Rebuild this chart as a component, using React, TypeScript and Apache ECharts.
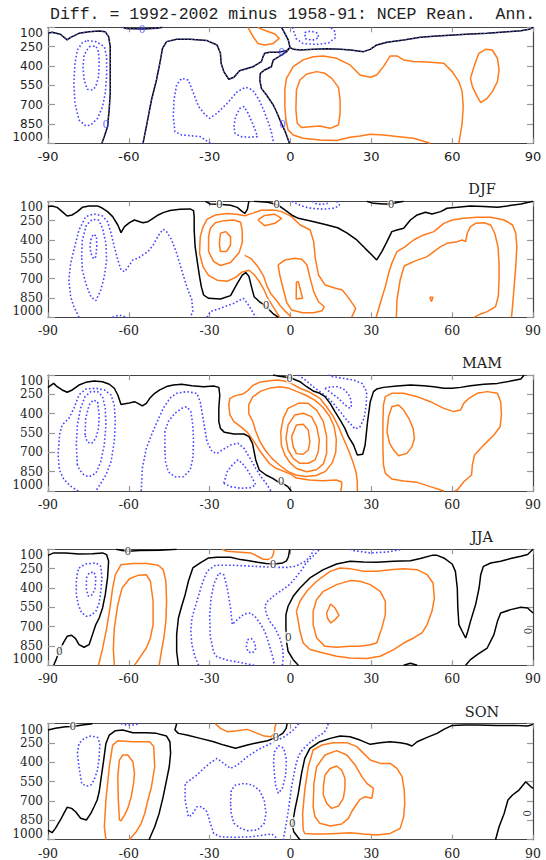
import { useEffect, useRef } from 'react';
import * as echarts from 'echarts';

type Pt = [number, number];

const TITLE = 'Diff. = 1992-2002 minus 1958-91: NCEP Rean.  Ann.';
const SEASONS = ['', 'DJF', 'MAM', 'JJA', 'SON'];
const P_TICKS = [100, 250, 400, 550, 700, 850, 1000];

// ---------- Panel 1: annual (lat, pressure) ----------
const annZeroA: Pt[] = [[-90,146],[-88.5,139],[-85.4,154],[-82.9,198],[-81.6,178],[-78.5,147],[-74.8,134],[-71,128],[-68.8,134],[-67.5,172],[-66.9,250],[-66.9,405],[-66.9,612],[-67.3,741],[-67.9,871],[-69.1,948],[-70,1000]];
const annZeroB: Pt[] = [[-62.3,100],[-61,110],[-54.8,113],[-49.8,108],[-47.3,100]];
const annZeroC: Pt[] = [[-54.75,1000],[-53.5,871],[-51.6,664],[-49.75,509],[-48.5,379],[-47.5,263],[-46,211],[-42.25,193],[-37.25,193],[-31,203],[-27.25,237],[-26,302],[-25.75,379],[-24.75,444],[-22.9,503],[-21,488],[-18.9,437],[-13.9,406],[-10.8,367],[-10.2,328],[-9.6,302],[-7.7,294],[-4.6,294],[-1.4,281],[-0.2,256],[1.1,271],[3.6,276],[8.6,271],[13.6,266],[18.6,271],[22.3,276],[27.1,289],[29.6,271],[32,237],[35.8,216],[42,198],[48.2,178],[54.4,167],[60.6,159],[66.8,152],[73,147],[79.3,136],[85.5,126],[88.6,116],[90,100]];
const annZeroD: Pt[] = [[-3.3,100],[-2.1,147],[-0.8,199],[-0.2,256],[-1.4,289],[-4,323],[-6.4,354],[-7.1,406],[-9.6,431],[-11.2,457],[-11.4,509],[-10.8,574],[-8.9,625],[-6.4,703],[-5.2,755],[-3.9,820],[-2.9,866],[-1.7,923],[-0.4,1000]];
const annNeg1: Pt[] = [[-75.4,203],[-72.25,211],[-69.1,250],[-68.25,328],[-68.25,483],[-68.75,612],[-69.75,715],[-71.6,806],[-74.1,858],[-76,865],[-78.5,819],[-80,690],[-80.4,534],[-80,379],[-79.1,276],[-77.25,219],[-75.4,203]];
const annNeg2: Pt[] = [[-74.75,250],[-72.25,245],[-71.25,289],[-71,379],[-71.25,483],[-72.25,560],[-73.5,586],[-75.4,581],[-76.6,509],[-77,405],[-76.6,315],[-74.75,250]];
const annNeg3: Pt[] = [[-29.75,1000],[-33.5,948],[-40.4,935],[-42.9,909],[-43.5,793],[-43.25,664],[-42.25,547],[-40.4,496],[-37.9,509],[-36,612],[-34.1,715],[-31.6,780],[-30,806],[-27.25,767],[-23.5,690],[-19.75,599],[-16.6,565],[-14.1,586],[-11.6,664],[-9.75,754],[-8.1,845],[-7,922],[-6.25,1000]];
const annNeg4: Pt[] = [[-21,871],[-20.4,793],[-18.75,728],[-17.25,715],[-15.75,767],[-14.1,845],[-12.9,909],[-12.25,948],[-15.4,953],[-18.5,948],[-20.6,922],[-21,871]];
const annNeg5: Pt[] = [[0.7,100],[2.2,190],[4.7,226],[9.7,233],[14.1,222],[16.6,182],[16.6,134],[15,104],[14.6,100]];
const annNeg6: Pt[] = [[5.3,140],[7.5,130],[10,145],[10.5,180],[8.2,200],[5.5,188],[5.3,140]];
const annPos1: Pt[] = [[-15.8,100],[-13.9,173],[-12.1,225],[-9.6,237],[-6.4,225],[-4.2,186],[-5.8,152],[-8.9,129],[-11.4,108],[-12.1,100]];
const annPos2: Pt[] = [[51.9,1000],[45.7,961],[39.5,948],[34.5,935],[29.6,930],[25.8,943],[22.1,953],[17.1,979],[10.9,974],[4.7,961],[1,935],[-0.9,896],[-1.7,819],[-2.1,715],[-2.1,586],[-1.5,496],[1,405],[4.7,353],[8.4,328],[12.2,322],[17.1,341],[22.1,392],[25.8,470],[29.6,488],[32,470],[34.5,405],[37,322],[39.5,322],[42,353],[45.7,366],[50.7,369],[56.9,379],[60,444],[62.5,522],[63.7,599],[64.1,715],[63.7,845],[63.1,922],[62.5,1000]];
const annPos3: Pt[] = [[2.2,586],[3.5,509],[6,462],[9.7,444],[12.8,457],[15.3,496],[17.8,566],[18.4,664],[18.4,767],[17.8,858],[14.7,884],[10.9,866],[7.2,871],[4.1,878],[2.5,845],[2,741],[2.2,586]];
const annPos4: Pt[] = [[68.1,405],[69.9,302],[72.4,271],[74.9,276],[76.8,340],[77.4,431],[76.8,522],[74.9,599],[73,651],[70.6,684],[69.3,638],[67.5,560],[66.8,496],[68.1,405]];
const annLabels: Pt[] = [[-68.5,850],[-55.1,114],[-3.3,289],[-2.9,853]];

// ---------- Panel 2: DJF ----------
const djfZero1: Pt[] = [[-90,141],[-88.5,136],[-86.6,147],[-84.75,180],[-82.9,214],[-81,206],[-79.1,180],[-77.25,147],[-74.75,136],[-71.6,136],[-69.75,154],[-67.9,180],[-66,219],[-64.1,284],[-62.9,343],[-61.6,297],[-59.75,266],[-57.9,245],[-56,258],[-54.75,266],[-52.9,258],[-51,232],[-49.1,206],[-47.25,188],[-44.75,172],[-41,162],[-37.25,159],[-36,172],[-35.75,219],[-35.75,322],[-35.4,452],[-34.5,581],[-33.75,684],[-33.1,762],[-32.25,827],[-30.4,853],[-26,858],[-22.25,832],[-19.75,736],[-17.9,672],[-16.6,653],[-15.4,684],[-14.5,762],[-13.5,840],[-11.6,878],[-9.75,904],[-8.5,930],[-6.6,969],[-4.5,1000]];
const djfZero2: Pt[] = [[-31.6,100],[-29.75,121],[-26.4,123],[-22.25,131],[-19.75,147],[-17.9,180],[-16.9,193],[-16,162],[-15.6,116],[-15.4,100]];
const djfZero3: Pt[] = [[-13.5,100],[-8.3,108],[-4.6,129],[-2.1,167],[0.4,206],[2.9,232],[7.9,255],[12.9,280],[17.5,305],[20.9,345],[24.6,400],[27.7,465],[30.2,516],[32,555],[33.9,490],[35.8,413],[37.6,335],[39.5,322],[42,309],[44.5,245],[47,206],[50.1,185],[52.5,198],[55.7,180],[58.1,154],[61.9,147],[66.8,136],[71.8,141],[76.8,147],[80.5,136],[85.5,121],[90,100]];
const djfZero4: Pt[] = [[28.3,100],[30.8,116],[34.5,121],[37.3,121],[39.5,110],[42,100]];
const djfNeg1: Pt[] = [[-78.5,1000],[-80.4,917],[-81.6,840],[-82.25,710],[-81.6,581],[-80.4,478],[-78.5,322],[-76,219],[-72.9,198],[-69.75,214],[-67.9,258],[-66.6,348],[-65.4,452],[-64.1,555],[-62.9,633],[-61.6,646],[-59.75,594],[-58.5,555],[-56.6,542],[-54.75,516],[-52.9,490],[-51,439],[-48.5,348],[-47.25,317],[-46,335],[-44.1,400],[-42.25,503],[-40.4,633],[-38.5,762],[-36.6,866],[-36.25,956],[-37.25,1000]];
const djfNeg2: Pt[] = [[-77.5,529],[-77.25,400],[-75.75,284],[-73.5,240],[-71.25,245],[-69.75,309],[-68.5,426],[-68.25,555],[-69.1,684],[-70.4,788],[-72.25,871],[-74.1,840],[-76,736],[-77.25,633],[-77.5,529]];
const djfNeg3: Pt[] = [[-74.1,400],[-73.25,356],[-72,369],[-71.9,452],[-72.25,529],[-73.1,547],[-74.1,503],[-74.4,452],[-74.1,400]];
const djfNeg4: Pt[] = [[-66,1000],[-63.5,982],[-61,1000]];
const djfNeg5: Pt[] = [[-31,1000],[-29.75,956],[-26,930],[-21,891],[-17.5,853],[-16,891],[-14.5,943],[-12.9,1000]];
const djfNeg6: Pt[] = [[0.5,100],[2,115],[4,135],[6.5,150],[9.5,158],[13,160],[16.5,152],[18.2,130],[17.5,108],[17,100]];
const djfNeg7: Pt[] = [[8,100],[9.5,118],[11.5,125],[13.5,118],[14,100]];
const djfPos1: Pt[] = [[-4,1000],[-5.5,950],[-7,900],[-8.5,850],[-9.75,790],[-11.6,722],[-13.5,668],[-15.4,635],[-17.9,648],[-20.4,690],[-23.5,720],[-27.25,712],[-30.4,675],[-32.5,607],[-33.75,503],[-33.5,374],[-32.5,300],[-31,240],[-27.9,206],[-23.5,195],[-20,200],[-17,212],[-14,192],[-10.8,170],[-6,168],[-3.3,180],[0.4,219],[3.6,284],[7.3,323],[8.6,413],[9.2,543],[10.4,672],[12.9,750],[16.7,775],[19.2,788],[21.7,853],[24.2,931],[22.7,1000]];
const djfPos2: Pt[] = [[-30.4,490],[-30.4,374],[-29.75,309],[-27.9,266],[-24.75,250],[-21,245],[-18.5,262],[-17.9,330],[-17.9,420],[-19.1,500],[-22.25,575],[-26,598],[-28.5,568],[-30.4,490]];
const djfPos3: Pt[] = [[-26,348],[-24.1,335],[-22.25,374],[-22.25,439],[-23.75,490],[-26,490],[-26.4,426],[-26,348]];
const djfPos4: Pt[] = [[-17,520],[-14.6,545],[-12.1,607],[-10,680],[-8.7,760],[-7.2,820],[-5.3,865],[-3.8,910],[-2.2,948],[-0.8,975],[0.2,1000]];
const djfPos5: Pt[] = [[-12.1,245],[-9.6,210],[-5.8,201],[-3.3,232],[-5.8,271],[-9.6,289],[-12.1,245]];
const djfPos6: Pt[] = [[-4.6,594],[-2,555],[1.6,542],[4.2,550],[6.1,594],[7.3,698],[8.6,801],[10.4,879],[12.5,918],[11.7,950],[8.6,965],[4.5,965],[0.4,943],[-1.4,885],[-2.7,780],[-3.9,680],[-4.6,594]];
const djfPos7: Pt[] = [[2.2,724],[2.9,724],[4.5,853],[2.1,858],[2.2,724]];
const djfPos8: Pt[] = [[31.8,1000],[33.3,891],[35.2,762],[36.4,659],[37.6,581],[39.5,490],[42.6,452],[45.7,400],[49.4,361],[53.2,335],[56.9,271],[60,245],[64.3,232],[69.3,224],[74.3,224],[79.3,245],[82.4,284],[83.6,348],[84,452],[83.6,607],[83,762],[82.4,917],[82,1000]];
const djfPos9: Pt[] = [[39.3,1000],[39.5,866],[40.7,710],[42.2,602],[45.7,568],[50.7,529],[53.2,490],[55.7,452],[58.1,426],[61.9,413],[63.7,400],[65,413],[65.6,348],[66.8,297],[68.7,271],[71.8,266],[74.3,284],[75.8,348],[77,452],[77.4,581],[77.4,710],[77.1,840],[76.1,917],[73,956],[70.6,974],[68.1,1000]];
const djfPos10: Pt[] = [[51.7,845],[52.9,845],[52.3,878],[51.7,845]];
const djfLabels: Pt[] = [[-26.4,123],[-9.1,904],[-5.2,122],[37.3,121]];

// ---------- Panel 3: MAM ----------
const mamZero1: Pt[] = [[-90,198],[-89.1,183],[-87.9,165],[-86.6,191],[-84.75,216],[-82.9,234],[-81,216],[-78.5,178],[-76,157],[-72.9,147],[-69.75,152],[-67.25,172],[-65.4,203],[-64.1,255],[-62.9,328],[-60.4,320],[-57.9,307],[-56.6,320],[-55,340],[-53.5,320],[-52.25,281],[-50.4,242],[-48.5,216],[-46,190],[-43.5,178],[-40.4,172],[-36.6,183],[-32.25,191],[-28.5,185],[-26.6,196],[-26.25,255],[-26.6,359],[-26.6,462],[-26,514],[-24.5,545],[-21,558],[-17.25,558],[-15.4,578],[-14.1,630],[-13.5,695],[-12.9,759],[-11.6,837],[-9.1,876],[-6.6,902],[-4.75,928],[-2.9,940],[-1,966],[0.25,1000]];
const mamZero2: Pt[] = [[-6.5,100],[-4,110],[0,121],[3.5,152],[6,191],[8.4,224],[10.9,242],[12.8,268],[14.7,320],[16.5,384],[18.4,449],[20.2,514],[21.5,578],[23.4,643],[24.8,721],[26.8,715],[27.7,643],[28.6,462],[29.6,307],[30.8,229],[32,209],[34.5,196],[39.5,185],[44.5,178],[49.4,183],[53.2,191],[56.9,203],[60,203],[63.1,196],[66.8,183],[71.8,172],[76.8,165],[81.7,147],[85.5,131],[86.7,100]];
const mamNeg1: Pt[] = [[-78.75,1000],[-81.6,962],[-84.1,910],[-85.75,837],[-86.25,721],[-85.75,565],[-84.75,488],[-82.25,436],[-80.4,359],[-78.5,255],[-76,209],[-72.25,203],[-69.1,216],[-66.6,255],[-65.4,333],[-65,462],[-65.4,617],[-66.6,772],[-68.5,876],[-70.4,940],[-72.25,1000]];
const mamNeg2: Pt[] = [[-79.1,798],[-79.5,643],[-79.1,488],[-77.9,359],[-76.25,268],[-74.1,229],[-71.6,229],[-69.75,268],[-68.75,359],[-68.5,488],[-69.1,643],[-70.4,772],[-72.25,863],[-74.75,889],[-76.6,876],[-78.25,837],[-79.1,798]];
const mamNeg3: Pt[] = [[-76.25,565],[-76,436],[-74.75,333],[-73.25,294],[-71.6,307],[-71,410],[-71.25,514],[-72.25,591],[-73.75,630],[-75.4,622],[-76.25,565]];
const mamNeg4: Pt[] = [[-55.4,1000],[-55,824],[-53.5,669],[-51.6,565],[-49.75,475],[-47.25,359],[-44.75,281],[-42.25,242],[-38.5,229],[-34.75,242],[-33.5,307],[-32.25,462],[-31,617],[-29.1,695],[-27.25,708],[-25.4,682],[-22.25,643],[-19.5,630],[-17.25,669],[-15,747],[-12.9,824],[-11,889],[-9.1,940],[-7.25,1000]];
const mamNeg5: Pt[] = [[-46.6,695],[-46.6,540],[-45.4,462],[-42.9,397],[-40.4,359],[-38.5,346],[-37,384],[-36.25,488],[-36,617],[-36.25,747],[-37.25,837],[-39.75,889],[-42.9,889],[-45.4,850],[-46.4,772],[-46.6,695]];
const mamNeg6: Pt[] = [[-24.75,940],[-23.5,850],[-21.6,798],[-19.5,759],[-17.9,785],[-16,837],[-14.1,902],[-12.9,953],[-14.75,974],[-18.5,979],[-22.25,966],[-24.75,940]];
const mamNeg7: Pt[] = [[2.9,100],[6,147],[8.4,191],[10.9,229],[13.4,268],[15.9,320],[18.4,384],[20.9,449],[24,519],[25.8,501],[27.3,436],[28.1,333],[28.3,229],[26.5,165],[23.4,139],[19.6,126],[15.9,113],[14,100]];
const mamNeg8: Pt[] = [[12.8,203],[15.3,191],[17.8,191],[20.2,216],[22.1,268],[22.7,333],[22.1,359],[20.2,333],[17.8,281],[15.3,242],[12.8,203]];
const mamPos1: Pt[] = [[18.6,1000],[19,965],[19,930],[17,915],[12,920],[7,915],[2.2,900],[0.25,871],[-2.25,850],[-5.4,824],[-7.9,785],[-9.75,734],[-11.6,682],[-13.5,617],[-16,545],[-18.5,501],[-21,462],[-22.5,410],[-22.9,333],[-22.5,281],[-20.4,260],[-17.9,250],[-16,224],[-14.1,183],[-11.6,157],[-8.5,147],[-4.75,139],[-2.25,147],[0.25,165],[3.5,203],[7.2,234],[10.9,281],[13.4,346],[15.9,423],[17.8,501],[19.6,591],[21.5,682],[23.1,772],[24.3,850],[24.8,928],[24.8,1000]];
const mamPos2: Pt[] = [[-14,460],[-15.5,400],[-15.5,330],[-14,270],[-11,225],[-7.5,200],[-4,192],[-1,200],[2,225],[5.5,255],[9,295],[12,350],[14.5,420],[16.2,500],[17,600],[16.8,700],[15.5,780],[13,848],[9.5,880],[5.5,888],[2,876],[-1,848],[-4,800],[-7,745],[-9.5,680],[-11.5,610],[-13,530],[-14,460]];
const mamPos3: Pt[] = [[-3.4,643],[-3.6,540],[-2.7,436],[-0.9,359],[2.9,320],[6.6,320],[9.7,372],[12.2,462],[13.4,578],[13.4,708],[12.2,790],[9.7,835],[6,850],[2.2,825],[-0.2,780],[-2.1,721],[-3.4,643]];
const mamPos4: Pt[] = [[-1.7,591],[-0.9,488],[1.6,410],[4.7,397],[7.8,423],[9.7,501],[10.7,604],[10.3,695],[9.1,759],[6.6,785],[3.5,785],[1,747],[-0.9,682],[-1.7,591]];
const mamPos5: Pt[] = [[0.4,578],[2.2,488],[4.7,483],[6.6,527],[7.2,617],[6.6,682],[4.7,715],[2.2,710],[1,656],[0.4,578]];
const mamPos6: Pt[] = [[56.9,1000],[51.9,966],[47,933],[42,922],[37.6,907],[35.2,863],[34.5,798],[34.3,669],[34.3,462],[34.5,333],[35.2,268],[37.6,242],[42,242],[47,268],[51.9,307],[56.9,359],[60.6,384],[63.1,372],[64.3,320],[66.2,281],[69.3,242],[73,229],[76.8,242],[78,307],[78.3,410],[77.8,501],[75.5,565],[73,617],[70.6,669],[68.3,721],[67.5,798],[67.2,876],[64.3,928],[61.9,992],[60.9,1000]];
const mamPos7: Pt[] = [[35.8,540],[36.4,423],[37.6,346],[40.1,333],[42,372],[43.9,436],[45.5,514],[46,591],[45.1,656],[43.2,708],[40.1,726],[38.3,682],[36.8,630],[35.8,540]];
const mamLabels: Pt[] = [[-3.5,920],[-0.3,122]];

// ---------- Panel 4: JJA ----------
const jjaZero1: Pt[] = [[-90,147],[-87.9,128],[-83.5,128],[-78.5,136],[-73.5,134],[-69.75,128],[-68.25,141],[-67.5,193],[-67.9,322],[-68.75,452],[-69.75,555],[-71,633],[-72.25,684],[-73.5,762],[-74.75,840],[-76.6,860],[-78.5,840],[-79.75,793],[-81.25,767],[-82.9,775],[-84.1,819],[-85.4,871],[-86.25,912],[-87,956],[-87.9,1000]];
const jjaZero2: Pt[] = [[-64.75,100],[-62.5,110],[-60.4,116],[-56,110],[-48.5,108],[-42.25,100]];
const jjaZero3: Pt[] = [[-41.6,1000],[-42.25,891],[-42.25,762],[-41.6,633],[-40.4,542],[-39.1,452],[-37.9,348],[-36.25,245],[-33.5,206],[-30.4,167],[-27.25,162],[-22.25,162],[-18.5,180],[-15.4,188],[-12.25,201],[-9.1,211],[-6,214],[-2.9,206],[-1.5,190],[-0.8,160],[-0.3,100]];
const jjaZero4: Pt[] = [[2.9,1000],[1,956],[-0.9,891],[-1.5,814],[-1.7,710],[-1.7,607],[-0.9,542],[1,465],[3.5,400],[7.2,322],[12.2,258],[17.1,214],[22.1,193],[27.1,198],[32,201],[38.3,193],[44.5,188],[48.2,172],[52.5,147],[54.4,147],[56.9,167],[60,214],[61.2,271],[61.9,400],[62.1,555],[62.5,684],[63.7,736],[65,788],[65.8,736],[66.8,659],[68.7,529],[70,400],[70.6,297],[71.6,232],[74.3,206],[78,193],[81.7,172],[85.5,154],[88,141],[90,100]];
const jjaZero5: Pt[] = [[65,1000],[66.8,956],[69.3,917],[73,866],[75.5,762],[76.8,659],[78,594],[81.7,568],[85.5,550],[88,555],[90,594]];
const jjaZero6: Pt[] = [[42,1000],[44.5,984],[47,1000]];
const jjaNeg1: Pt[] = [[-78.5,245],[-76,214],[-72.25,206],[-70.4,232],[-70,322],[-70.4,426],[-71,516],[-72.25,581],[-74.1,612],[-75.75,620],[-77.5,594],[-78.75,529],[-79.5,452],[-79.5,348],[-79.1,284],[-78.5,245]];
const jjaNeg2: Pt[] = [[-75.75,322],[-74.75,284],[-72.9,276],[-72.25,322],[-72.5,400],[-73.5,452],[-75,465],[-75.75,413],[-75.75,322]];
const jjaNeg3: Pt[] = [[-34.1,1000],[-35.4,935],[-36.6,840],[-37,736],[-36.6,633],[-34.75,503],[-32.9,374],[-31,271],[-27.9,224],[-21,224],[-13.5,232],[-6,240],[-1,240],[2,230],[5,200],[7,165],[8,130],[8.5,100]];
const jjaNeg4: Pt[] = [[-13.5,1000],[-18.5,979],[-23.5,960],[-27.25,935],[-28.5,900],[-29.75,780],[-30,620],[-29.5,480],[-28.5,374],[-26.6,284],[-24.75,297],[-23.5,400],[-22.25,555],[-21.6,684],[-19.75,646],[-17.25,602],[-14.75,594],[-12.9,628],[-11,684],[-9.5,740],[-8.5,800],[-7.5,870],[-6.5,940],[-6,1000]];
const jjaNeg5: Pt[] = [[-16,801],[-14.5,793],[-13.25,827],[-12.9,871],[-14.1,904],[-15.75,896],[-16.4,853],[-16,801]];
const jjaNeg6: Pt[] = [[-3,1000],[-2.7,940],[-2.9,866],[-4,788],[-5.8,710],[-7.7,659],[-9,600],[-9.5,540],[-8.5,503],[-6,457],[-2.9,413],[-0.4,374],[1.5,330],[3,290],[4.5,250],[5.5,215],[7,180],[8.5,150],[10,120],[10.7,100]];
const jjaNeg7: Pt[] = [[22,100],[23.4,110],[29.6,128],[35.8,121],[41.4,100]];
const jjaPos1: Pt[] = [[-71.25,1000],[-69.75,871],[-68.25,716],[-67,555],[-66,400],[-65,297],[-62.9,219],[-58.5,211],[-53.5,211],[-49.1,224],[-47.25,258],[-46.25,348],[-46,503],[-46.25,659],[-47,788],[-47.9,891],[-48.75,1000]];
const jjaPos2: Pt[] = [[-65.4,1000],[-65.75,871],[-65.4,716],[-64.1,529],[-62.5,400],[-59.75,328],[-56.6,302],[-53.5,297],[-52,348],[-51,503],[-51,684],[-52,788],[-53.5,866],[-56,943],[-57.9,1000]];
const jjaPos3: Pt[] = [[-25.4,100],[-23.5,116],[-18.5,123],[-14.75,128],[-12.25,154],[-10.4,175],[-8.5,180],[-7,167],[-6.25,128],[-6.25,100]];
const jjaPos4: Pt[] = [[2.2,581],[3.5,503],[6,426],[9.7,348],[14.7,271],[18.4,245],[22.1,250],[27.1,271],[32,271],[37,258],[42,250],[47,258],[50.7,297],[52.9,361],[53.4,478],[52.5,581],[50.7,684],[48.8,749],[45.7,788],[42,827],[38.3,878],[33.3,930],[28.3,948],[22.1,943],[17.1,930],[12.2,904],[7.2,878],[4.7,827],[3.5,736],[2.9,659],[2.2,581]];
const jjaPos5: Pt[] = [[8.4,581],[9.7,490],[12.2,426],[17.1,374],[22.1,343],[25.8,348],[29.6,374],[33.3,426],[35.2,503],[35.2,607],[33.9,710],[32,827],[29.6,840],[25.8,853],[22.1,853],[17.1,860],[12.8,853],[9.7,788],[8.4,684],[8.4,581]];
const jjaPos6: Pt[] = [[13.4,594],[14.9,524],[16.5,555],[18,612],[16.5,646],[14.9,672],[13.7,633],[13.4,594]];
const jjaLabels: Pt[] = [[-85.75,886],[-60.4,116],[-6.5,214],[-0.8,783]];
const jjaRotLabels: Pt[] = [[88.2,735]];

// ---------- Panel 5: SON ----------
const sonZero1: Pt[] = [[-90,149],[-87.25,136],[-83.5,123],[-80.75,121],[-77.25,110],[-73.5,100]];
const sonZero2: Pt[] = [[-90,925],[-88.5,946],[-87.25,912],[-85.4,847],[-84.1,796],[-82.9,749],[-81.25,757],[-79.75,783],[-77.9,834],[-75.75,847],[-74.1,796],[-72.9,744],[-71.75,692],[-71,628],[-70.4,537],[-69.5,408],[-68.5,253],[-67.25,188],[-65,154],[-62.25,149],[-58.5,170],[-53.5,170],[-49.75,175],[-46,196],[-44.75,240],[-44.5,330],[-45,434],[-46,537],[-47.25,666],[-48.75,796],[-50.4,899],[-52.5,1000]];
const sonZero3: Pt[] = [[-42.25,100],[-42.9,149],[-41.6,175],[-38.5,188],[-33.5,214],[-28.5,240],[-24.75,266],[-20.4,291],[-16,266],[-12.25,247],[-8.5,232],[-5.4,206],[-2.9,175],[-1.6,136],[-1.25,100]];
const sonZero4: Pt[] = [[3.5,1000],[1.2,938],[0.7,886],[1.6,770],[2.9,640],[4.1,485],[5.3,369],[7.2,291],[10.9,240],[14.7,214],[18.4,196],[22.1,201],[25.8,227],[29.6,260],[33.3,247],[37,240],[40.7,247],[43.2,258],[45.1,273],[47,240],[50.7,206],[54.4,175],[56.9,144],[60,113],[64.3,110],[69.3,110],[76.8,113],[83,113],[88,118],[90,105]];
const sonZero5: Pt[] = [[76.1,1000],[77.4,899],[79.3,796],[80.7,692],[82.4,653],[84.8,615],[87.3,550],[89.2,589],[90,602]];
const sonNeg1: Pt[] = [[-77.5,563],[-78.5,434],[-79.1,330],[-78.5,253],[-76.6,214],[-74.1,196],[-71.6,206],[-70.75,253],[-71,356],[-71.6,460],[-72.9,537],[-74.1,576],[-75.75,584],[-77.5,563]];
const sonNeg2: Pt[] = [[-62.9,100],[-61,110],[-58.5,110],[-56,100]];
const sonNeg3: Pt[] = [[14,100],[13.5,130],[12.5,170],[10,200],[7,250],[4.5,300],[3,350],[2,420],[1.2,500],[0.3,600],[-0.3,700],[-1,800],[-1.8,900],[-2.7,1000]];
const sonNeg4: Pt[] = [[3,100],[1.5,140],[-0.5,175],[-2.25,200],[-4.75,227],[-7.25,253],[-9.75,278],[-12.25,304],[-16,356],[-19.75,421],[-22.25,447],[-24.75,408],[-27.25,369],[-29.75,403],[-32.25,447],[-34.75,498],[-37.25,537],[-39.1,563],[-39.1,692],[-37.9,822],[-36.6,809],[-34.75,744],[-32.9,744],[-31,783],[-29.75,873],[-28.5,951],[-26,977],[-21,982],[-14.75,977],[-9.75,964],[-7,955],[-5.5,980],[-5,1000]];
const sonNeg5: Pt[] = [[-22.25,718],[-22,615],[-20.4,576],[-17.25,563],[-14.1,576],[-11.6,615],[-9.75,692],[-9.1,796],[-9.75,873],[-12.25,925],[-16,930],[-18.5,912],[-21,873],[-22,796],[-22.25,718]];
const sonNeg6: Pt[] = [[-6,320],[-4.5,270],[-2.5,290],[-1.5,380],[-1.8,500],[-3,600],[-4.5,640],[-5.5,580],[-6,480],[-6.3,400],[-6,320]];
const sonPos1: Pt[] = [[-68.5,1000],[-69.1,899],[-68.5,692],[-67.25,434],[-66,266],[-64.1,232],[-58.5,240],[-52.25,240],[-50.75,278],[-50.4,434],[-51.6,589],[-52.9,692],[-54.1,796],[-55.4,873],[-57.25,938],[-59.75,1000]];
const sonPos2: Pt[] = [[-63.5,847],[-63.9,692],[-64.1,511],[-63.5,382],[-62.25,343],[-60.4,343],[-58.5,395],[-57.9,485],[-58.25,563],[-59.1,666],[-60.4,757],[-61.6,809],[-62.9,853],[-63.5,847]];
const sonPos3: Pt[] = [[-27.9,100],[-26,136],[-23.5,162],[-19.75,154],[-16,144],[-12.25,175],[-9.75,196],[-7.25,201],[-6,175],[-5.75,123],[-5.4,100]];
const sonPos4: Pt[] = [[4.7,925],[4.5,796],[5.3,615],[6.6,434],[8.4,304],[11.6,266],[15.9,247],[20.9,247],[24.6,278],[27.1,330],[29.6,382],[33.3,408],[37,408],[39.5,447],[41.4,511],[42.2,615],[42.4,718],[42,822],[40.7,912],[37,951],[32,964],[27.1,956],[22.1,946],[17.1,951],[12.2,956],[8.4,956],[5.3,951],[4.7,925]];
const sonPos5: Pt[] = [[8.4,744],[8.7,563],[9.7,434],[12.8,343],[17.1,309],[20.9,343],[24,421],[26.5,511],[28.3,563],[30.8,602],[30.2,679],[27.7,666],[25.8,687],[24.3,731],[22.7,783],[21.5,834],[19,878],[14.7,894],[10.9,873],[9.1,822],[8.4,744]];
const sonPos6: Pt[] = [[12.2,589],[12.8,498],[14.7,447],[17.1,428],[19,460],[20.2,524],[20.2,602],[19.6,679],[17.8,739],[15.3,757],[13.4,718],[12.2,653],[12.2,589]];
const sonLabels: Pt[] = [[-80.75,121],[-5.4,206],[0.7,868]];
const sonRotLabels: Pt[] = [[87.7,796]];

type Panel = { zero: Pt[][]; pos: Pt[][]; neg: Pt[][]; labels: Pt[]; rot: Pt[] };
const PANELS: Panel[] = [
  { zero: [annZeroA, annZeroB, annZeroC, annZeroD], pos: [annPos1, annPos2, annPos3, annPos4], neg: [annNeg1, annNeg2, annNeg3, annNeg4, annNeg5, annNeg6], labels: annLabels, rot: [] },
  { zero: [djfZero1, djfZero2, djfZero3, djfZero4], pos: [djfPos1, djfPos2, djfPos3, djfPos4, djfPos5, djfPos6, djfPos7, djfPos8, djfPos9, djfPos10], neg: [djfNeg1, djfNeg2, djfNeg3, djfNeg4, djfNeg5, djfNeg6, djfNeg7], labels: djfLabels, rot: [] },
  { zero: [mamZero1, mamZero2], pos: [mamPos1, mamPos2, mamPos3, mamPos4, mamPos5, mamPos6, mamPos7], neg: [mamNeg1, mamNeg2, mamNeg3, mamNeg4, mamNeg5, mamNeg6, mamNeg7, mamNeg8], labels: mamLabels, rot: [] },
  { zero: [jjaZero1, jjaZero2, jjaZero3, jjaZero4, jjaZero5, jjaZero6], pos: [jjaPos1, jjaPos2, jjaPos3, jjaPos4, jjaPos5, jjaPos6], neg: [jjaNeg1, jjaNeg2, jjaNeg3, jjaNeg4, jjaNeg5, jjaNeg6, jjaNeg7], labels: jjaLabels, rot: jjaRotLabels },
  { zero: [sonZero1, sonZero2, sonZero3, sonZero4, sonZero5], pos: [sonPos1, sonPos2, sonPos3, sonPos4, sonPos5, sonPos6], neg: [sonNeg1, sonNeg2, sonNeg3, sonNeg4, sonNeg5, sonNeg6], labels: sonLabels, rot: sonRotLabels },
];

const GRID_TOPS = [27.3, 201.3, 375, 549.3, 723.7];
const GRID_H = 116;
const GRID_LEFT = 48;
const GRID_W = 485;
const ORANGE = '#ff7a1a';
const BLUE = '#4646ff';

function buildOption() {
  const grid: any[] = [];
  const xAxis: any[] = [];
  const yAxis: any[] = [];
  const series: any[] = [];
  const graphic: any[] = [];

  PANELS.forEach((pn, i) => {
    const sans = i === 0;
    const font = sans ? 'DejaVu Sans' : 'DejaVu Serif';
    const fx = sans ? 13 : 12.5;
    const fy = 12;
    grid.push({ left: GRID_LEFT, top: GRID_TOPS[i], width: GRID_W, height: GRID_H });
    const frame = { show: true, onZero: false, lineStyle: { color: '#444', width: 1.2 } };
    const tick = (len: number, custom?: number[]) => ({ show: true, inside: true, length: len, customValues: custom, lineStyle: { color: '#999', width: 1.2 } });
    xAxis.push({
      gridIndex: i, type: 'value', min: -90, max: 90, interval: 30, position: 'bottom',
      axisLine: frame, splitLine: { show: false }, axisTick: tick(5),
      axisLabel: { show: true, margin: 7, fontFamily: font, fontSize: fx, color: '#222', showMinLabel: true, showMaxLabel: true, formatter: (v: number) => String(v) },
    });
    xAxis.push({
      gridIndex: i, type: 'value', min: -90, max: 90, interval: 30, position: 'top',
      axisLine: frame, splitLine: { show: false }, axisTick: tick(5), axisLabel: { show: false },
    });
    yAxis.push({
      gridIndex: i, type: 'value', min: 100, max: 1000, inverse: true, position: 'left',
      axisLine: frame, splitLine: { show: false }, axisTick: tick(7, P_TICKS),
      axisLabel: { show: true, customValues: P_TICKS, margin: 5, fontFamily: font, fontSize: fy, color: '#222',
        verticalAlignMinLabel: 'top', verticalAlignMaxLabel: 'bottom', formatter: (v: number) => String(v) },
    });
    yAxis.push({
      gridIndex: i, type: 'value', min: 100, max: 1000, inverse: true, position: 'right',
      axisLine: frame, splitLine: { show: false }, axisTick: tick(6, P_TICKS), axisLabel: { show: false },
    });

    const base = { type: 'line', xAxisIndex: 2 * i, yAxisIndex: 2 * i, showSymbol: false, symbol: 'none', silent: true, animation: false };
    pn.neg.forEach((d) => series.push({ ...base, data: d, z: 2, lineStyle: { color: BLUE, width: 1.6, type: [1.6, 2.2] } }));
    pn.pos.forEach((d) => series.push({ ...base, data: d, z: 2, lineStyle: { color: ORANGE, width: 1.5 } }));
    pn.zero.forEach((d) => {
      series.push({ ...base, data: d, z: 3, lineStyle: { color: '#000', width: 1.5 } });
      if (i === 0) series.push({ ...base, data: d, z: 4, lineStyle: { color: '#5a5aff', width: 1.1, type: [1.4, 2.2] } });
    });
    series.push({
      type: 'scatter', xAxisIndex: 2 * i, yAxisIndex: 2 * i, data: pn.labels, symbolSize: 1, silent: true, z: 6,
      itemStyle: { color: 'rgba(0,0,0,0)' },
      label: { show: true, position: 'inside', formatter: '0', fontFamily: 'DejaVu Serif', fontSize: 10.5,
        color: i === 0 ? '#3c3cff' : '#000', backgroundColor: i === 0 ? 'transparent' : '#fff', padding: 0 },
    });
    if (pn.rot.length) {
      series.push({
        type: 'scatter', xAxisIndex: 2 * i, yAxisIndex: 2 * i, data: pn.rot, symbolSize: 1, silent: true, z: 6,
        itemStyle: { color: 'rgba(0,0,0,0)' },
        label: { show: true, position: 'inside', formatter: '0', rotate: 90, fontFamily: 'DejaVu Serif', fontSize: 10.5, color: '#000' },
      });
    }
    if (SEASONS[i]) {
      graphic.push({ type: 'text', x: 482, y: GRID_TOPS[i] - 12, silent: true,
        style: { text: SEASONS[i], font: '14.5px "DejaVu Serif"', fill: '#222', align: 'center', verticalAlign: 'middle' } });
    }
  });

  graphic.push({ type: 'text', x: 50, y: 14, silent: true,
    style: { text: TITLE, font: '16.5px "Liberation Mono"', fill: '#222', align: 'left', verticalAlign: 'middle' } });

  return { animation: false, backgroundColor: '#fff', grid, xAxis, yAxis, series, graphic };
}

export default function App() {
  const ref = useRef<HTMLDivElement>(null);
  useEffect(() => {
    if (!ref.current) return;
    const chart = echarts.init(ref.current, undefined, { renderer: 'svg' });
    chart.setOption(buildOption());
    return () => chart.dispose();
  }, []);
  return <div ref={ref} style={{ position: 'fixed', left: 0, top: 0, width: 546, height: 860, background: '#fff' }} />;
}
